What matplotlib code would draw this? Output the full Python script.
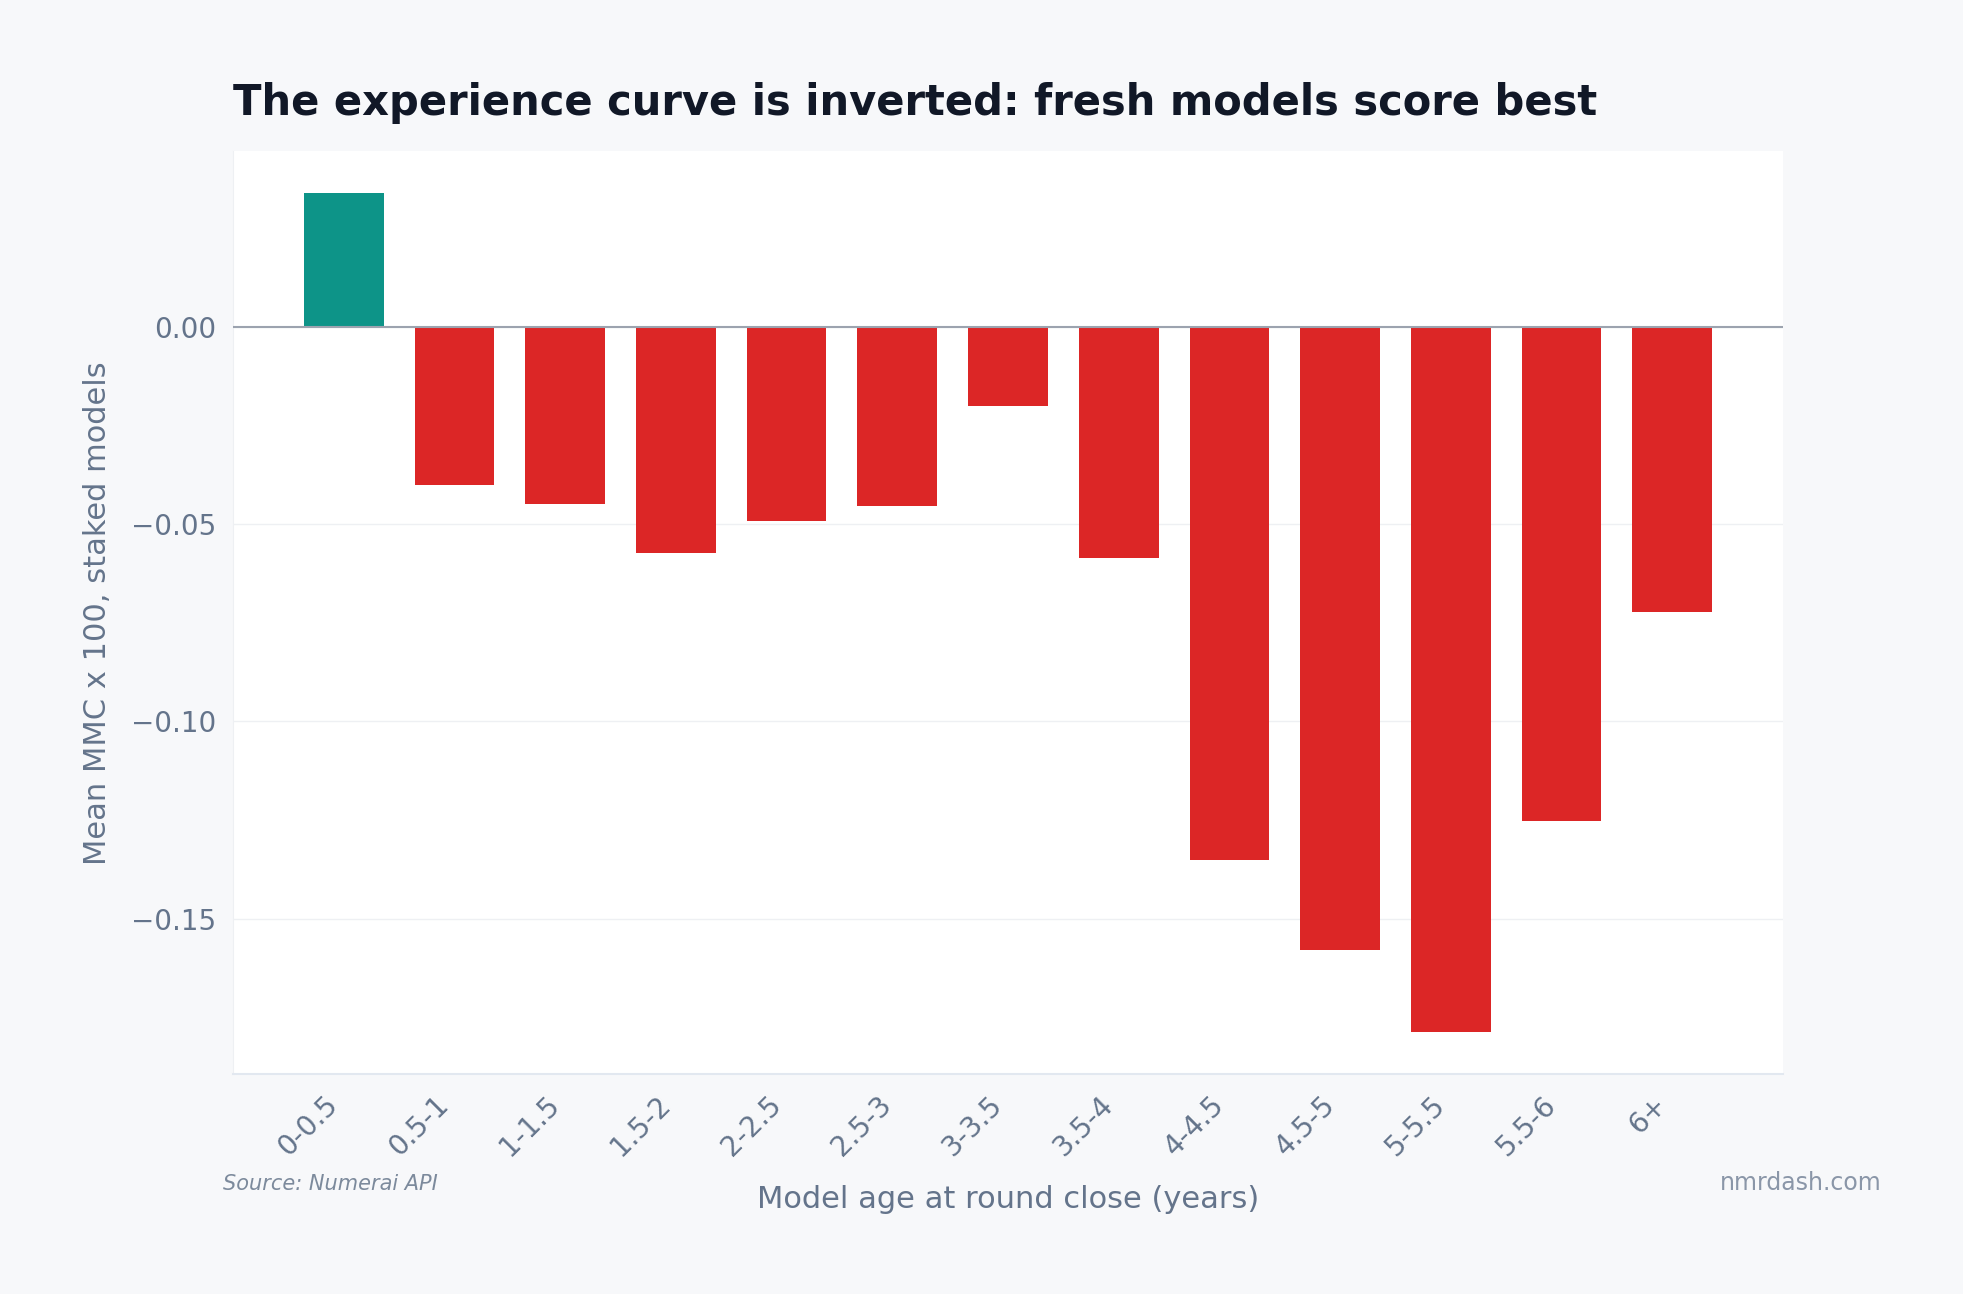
import matplotlib.pyplot as plt

categories = ["0-0.5", "0.5-1", "1-1.5", "1.5-2", "2-2.5", "2.5-3", "3-3.5",
              "3.5-4", "4-4.5", "4.5-5", "5-5.5", "5.5-6", "6+"]
mean_mmc = [0.0339, -0.0400, -0.0450, -0.0574, -0.0491, -0.0453, -0.0200,
            -0.0587, -0.1351, -0.1579, -0.1788, -0.1252, -0.0723]

bg = "#f7f8fa"
slate = "#64748b"
colors = ["#0d9488" if v >= 0 else "#dc2626" for v in mean_mmc]

fig = plt.figure(figsize=(19.63, 12.94), dpi=100, facecolor=bg)
ax = fig.add_axes([0.1187, 0.170, 0.7896, 0.713])
ax.set_facecolor("white")

x = range(len(categories))
ax.bar(x, mean_mmc, width=0.72, color=colors, zorder=3)
ax.axhline(0, color="#9ca3af", linewidth=1.5, zorder=4)

ax.set_xlim(-1, 13)
ax.set_xticks(list(x))
ax.set_xticklabels(categories, rotation=45, ha="right")
ax.set_yticks([0.0, -0.05, -0.10, -0.15])
ax.set_yticklabels(["0.00", "\u22120.05", "\u22120.10", "\u22120.15"])
ax.tick_params(axis="both", colors=slate, labelsize=20, length=0, pad=12)
ax.yaxis.grid(True, color="#eef0f3", linewidth=1, zorder=0)
ax.set_axisbelow(True)

for side in ["top", "right"]:
    ax.spines[side].set_visible(False)
ax.spines["left"].set_color("#eef0f3")
ax.spines["bottom"].set_color("#e2e8f0")
ax.spines["bottom"].set_linewidth(1.5)

ax.set_ylabel("Mean MMC x 100, staked models", fontsize=22, color=slate, labelpad=14)
ax.set_xlabel("Model age at round close (years)", fontsize=22, color=slate, labelpad=17)
ax.set_title("The experience curve is inverted: fresh models score best",
             loc="left", fontsize=30, fontweight="bold", color="#111827", pad=26)

fig.text(0.1136, 0.085, "Source: Numerai API", fontsize=15, style="italic",
         color="#7c8a9c", va="center", ha="left")
fig.text(0.9588, 0.086, "nmrdash.com", fontsize=17, color="#8a96a8",
         va="center", ha="right")

fig.savefig("out.png", dpi=100, facecolor=bg)
